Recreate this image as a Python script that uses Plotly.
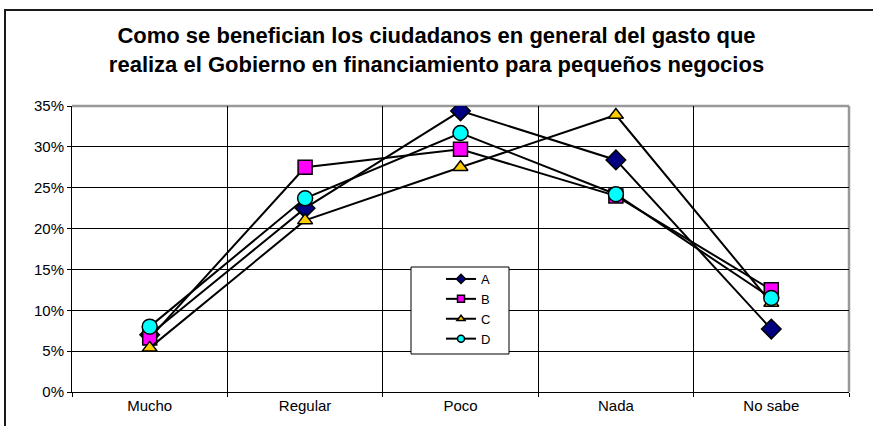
import plotly.graph_objects as go

# categories and series (share of respondents)
categorias = ['Mucho', 'Regular', 'Poco', 'Nada', 'No sabe']
serie_a = [0.070, 0.225, 0.344, 0.284, 0.077]
serie_b = [0.066, 0.275, 0.297, 0.240, 0.125]
serie_c = [0.054, 0.210, 0.275, 0.339, 0.109]
serie_d = [0.080, 0.237, 0.317, 0.242, 0.115]

series = [
    ('A', serie_a, 'diamond', '#000080', 15),
    ('B', serie_b, 'square', '#FF00FF', 14),
    ('C', serie_c, 'triangle-up', '#FFCC00', 13),
    ('D', serie_d, 'circle', '#00FFFF', 15),
]

fig = go.Figure()
for nombre, valores, simbolo, color, tam in series:
    fig.add_trace(go.Scatter(
        x=categorias, y=valores, name=nombre,
        mode='lines+markers', showlegend=False,
        line=dict(color='black', width=2),
        marker=dict(symbol=simbolo, size=tam, color=color,
                    line=dict(color='black', width=1.5)),
    ))
# legend entries with the small markers of the original
for nombre, valores, simbolo, color, tam in series:
    fig.add_trace(go.Scatter(
        x=[None], y=[None], name=nombre,
        mode='lines+markers', showlegend=True,
        line=dict(color='black', width=2),
        marker=dict(symbol=simbolo, size=7, color=color,
                    line=dict(color='black', width=1.5)),
    ))

# margins chosen so the plot area matches the original chart
L, R, T, B = 72, 24, 106, 34
W, H = 873, 426
pw, ph = W - L - R, H - T - B

def px_x(x):
    return (x - L) / pw

def px_y(y):
    return (H - B - y) / ph

fig.update_layout(
    width=W, height=H,
    margin=dict(l=L, r=R, t=T, b=B),
    paper_bgcolor='white', plot_bgcolor='white',
    font=dict(family='Arial, Liberation Sans, sans-serif', color='black'),
    title=dict(
        text='<b>Como se benefician los ciudadanos en general del gasto que<br>'
             'realiza el Gobierno en financiamiento para pequeños negocios</b>',
        x=0.5, xanchor='center', y=1 - 43 / H, yanchor='top',
        font=dict(size=22, family='Arial, Liberation Sans, sans-serif'),
    ),
    showlegend=True,
    legend=dict(
        x=px_x(441), y=px_y(264), xanchor='left', yanchor='top',
        bgcolor='rgba(0,0,0,0)', borderwidth=0,
        font=dict(size=13), tracegroupgap=0,
    ),
    xaxis=dict(
        type='category', range=[-0.5, 4.5], tickson='boundaries',
        showgrid=True, gridcolor='black', gridwidth=1,
        showline=True, linecolor='black', linewidth=1,
        ticks='outside', ticklen=4, tickcolor='black',
        tickfont=dict(size=15), fixedrange=True,
    ),
    yaxis=dict(
        range=[0, 0.35], dtick=0.05, tickformat='.0%',
        showgrid=True, gridcolor='black', gridwidth=1,
        showline=True, linecolor='black', linewidth=1,
        ticks='outside', ticklen=4, tickcolor='black',
        tickfont=dict(size=15), zeroline=False, fixedrange=True,
    ),
    shapes=[
        # grey plot-area border on top and right
        dict(type='line', xref='paper', yref='paper', x0=0, x1=1, y0=1, y1=1,
             line=dict(color='#999999', width=2.5), layer='between'),
        dict(type='line', xref='paper', yref='paper', x0=1, x1=1, y0=0, y1=1,
             line=dict(color='#999999', width=2.5), layer='between'),
        # legend box
        dict(type='rect', xref='paper', yref='paper',
             x0=px_x(411), x1=px_x(509), y0=px_y(354), y1=px_y(267),
             fillcolor='white', line=dict(color='black', width=1)),
        # outer chart frame
        dict(type='rect', xref='paper', yref='paper',
             x0=px_x(5), x1=px_x(880), y0=px_y(440), y1=px_y(10),
             line=dict(color='#1a1a1a', width=2)),
    ],
)

fig.write_html('out.html', config={'displayModeBar': False},
               post_script="document.body.style.margin='0';")
